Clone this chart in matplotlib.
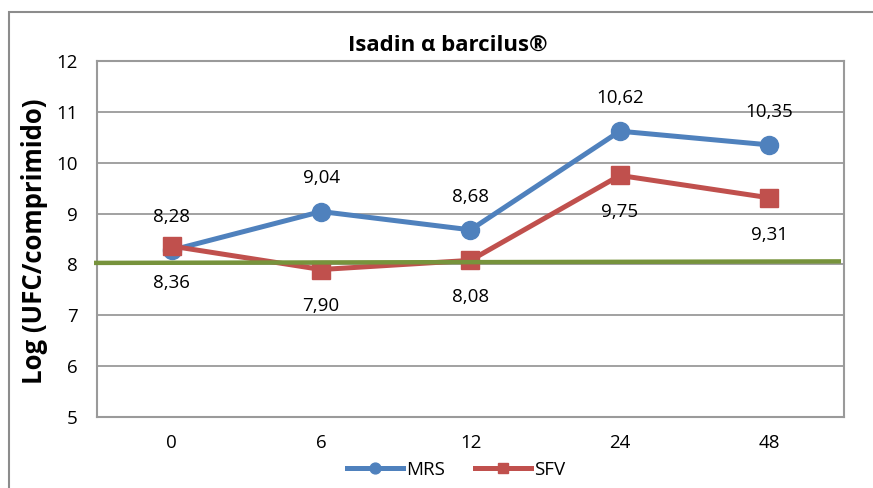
import matplotlib
matplotlib.use("Agg")
import matplotlib.pyplot as plt
from matplotlib.patches import Rectangle

categories = ["0", "6", "12", "24", "48"]
mrs = [8.28, 9.04, 8.68, 10.62, 10.35]
sfv = [8.36, 7.90, 8.08, 9.75, 9.31]
mrs_labels = ["8,28", "9,04", "8,68", "10,62", "10,35"]
sfv_labels = ["8,36", "7,90", "8,08", "9,75", "9,31"]
reference_line = [8.03, 8.06]
yticks = [5, 6, 7, 8, 9, 10, 11, 12]
title = "Isadin α barcilus®"
ylabel = "Log (UFC/comprimido)"

plt.rcParams['font.family'] = ['Open Sans', 'DejaVu Sans']

BLUE = "#4F81BD"
RED = "#C0504D"
GREEN = "#77933C"
GRID = "#9A9A9A"

fig = plt.figure(figsize=(8.73, 4.88), dpi=100)
ax = fig.add_axes([97/873, 1-417/488, (844-97)/873, (417-61)/488])

# outer chart frame
fig.patches.append(Rectangle((9/873, -0.05), 1.0, 1-12/488+0.05, transform=fig.transFigure,
                             fill=False, edgecolor="#8C8C8C", linewidth=1.5))

x = list(range(len(categories)))
ax.set_xlim(-0.5, len(categories)-0.5)
ax.set_ylim(min(yticks), max(yticks))
ax.set_yticks(yticks)
ax.set_xticks(x)
ax.set_xticklabels(categories)
ax.grid(axis='y', color=GRID, linewidth=1.3)
ax.set_axisbelow(True)
for s in ax.spines.values():
    s.set_color(GRID)
    s.set_linewidth(1.5)
ax.tick_params(length=0, labelsize=13.5, pad=12)
ax.tick_params(axis='y', pad=14)

ax.plot(x, mrs, color=BLUE, linewidth=3.6, marker='o', markersize=13, label="MRS", zorder=3)
ax.plot(x, sfv, color=RED, linewidth=3.6, marker='s', markersize=13, label="SFV", zorder=4)
ax.plot([-0.52, len(categories)-0.52], reference_line, color=GREEN, linewidth=3.2, zorder=5,
        clip_on=False, solid_capstyle='butt')

for xi, v, t in zip(x, mrs, mrs_labels):
    ax.annotate(t, (xi, v), xytext=(0, 24), textcoords='offset points',
                ha='center', va='center', fontsize=13.5)
for xi, v, t in zip(x, sfv, sfv_labels):
    ax.annotate(t, (xi, v), xytext=(0, -26.5), textcoords='offset points',
                ha='center', va='center', fontsize=13.5)

fig.text(448/873, 1-45/488, title, fontsize=16, fontweight='bold', ha='center', va='center')
fig.text(35/873, 1-241/488, ylabel, fontsize=18.5, fontweight='bold', ha='center', va='center',
         rotation=90)

leg = fig.legend(loc='center', bbox_to_anchor=(456/873, 1-470/488), ncol=2, frameon=False,
                 fontsize=13.5, handlelength=3.0, columnspacing=1.6, handletextpad=0.15,
                 borderaxespad=0, markerscale=0.6)

fig.savefig("out.png", dpi=100)
